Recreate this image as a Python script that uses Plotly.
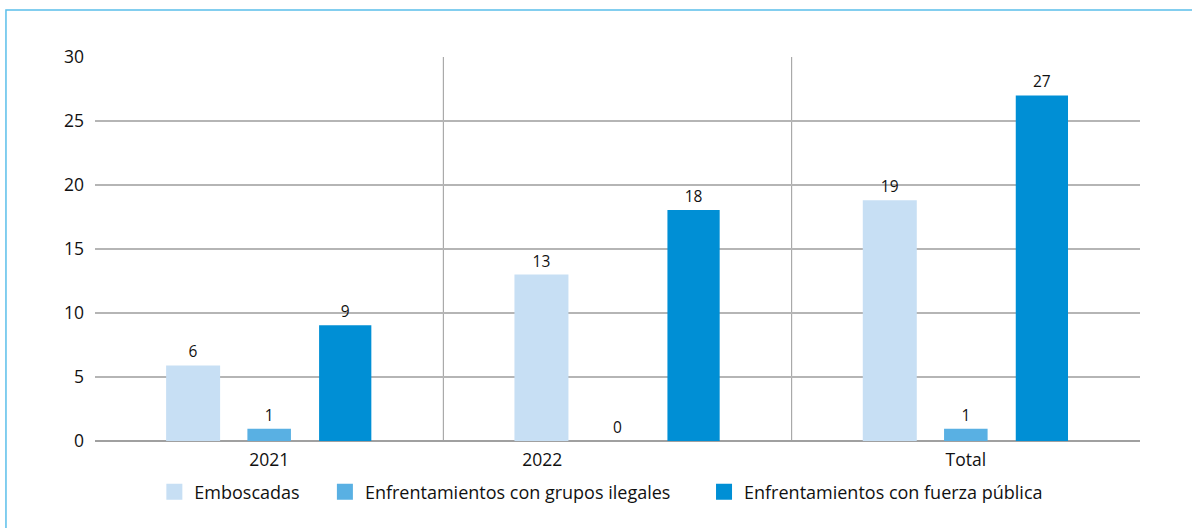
import plotly.graph_objects as go

categories = ["2021", "2022", "Total"]
series_names = ["Emboscadas", "Enfrentamientos con grupos ilegales", "Enfrentamientos con fuerza pública"]
emboscadas = [5.9, 13.0, 18.8]
grupos_ilegales = [0.95, 0.0, 0.95]
fuerza_publica = [9.05, 18.05, 27.0]
labels_emb = ["6", "13", "19"]
labels_gru = ["1", "0", "1"]
labels_fue = ["9", "18", "27"]
y_ticks = [0, 5, 10, 15, 20, 25, 30]

colors = ["#c7dff4", "#59b0e3", "#008fd5"]
widths = [0.155, 0.125, 0.15]
legend_ids = ["legend", "legend2", "legend3"]
legend_x = [0.0568, 0.2200, 0.5828]
FONT = "Open Sans"

fig = go.Figure()
for name, vals, txt, c, w in zip(series_names,
                                 [emboscadas, grupos_ilegales, fuerza_publica],
                                 [labels_emb, labels_gru, labels_fue], colors, widths):
    fig.add_trace(go.Bar(
        x=categories, y=vals, name=name, text=txt, textposition="outside",
        constraintext="none",
        textfont=dict(family=FONT, size=15.5, color="#111"),
        marker=dict(color=c, line=dict(width=0)), width=w, cliponaxis=False,
        showlegend=False,
    ))
# legend entries with square swatches, one legend per entry
for name, c, lid in zip(series_names, colors, legend_ids):
    fig.add_trace(go.Scatter(x=[None], y=[None], mode="markers", name=name, legend=lid,
                             marker=dict(symbol="square", size=16, color=c)))

# separators between categories
for xb in [0.5, 1.5]:
    fig.add_shape(type="line", xref="x", yref="y", x0=xb, x1=xb, y0=0, y1=30,
                  line=dict(color="#999999", width=1), layer="below")

# outer frame
fig.add_shape(type="rect", xref="paper", yref="paper", x0=-0.0852, x1=1.2, y0=-0.4, y1=1.1224,
              line=dict(color="#5bbfea", width=1.5))

legend_common = dict(orientation="h", xanchor="left", y=-0.133, yanchor="middle",
                     font=dict(family=FONT, size=18, color="#111"), itemclick=False,
                     itemdoubleclick=False, itemwidth=30, bgcolor="rgba(0,0,0,0)")

fig.update_layout(
    width=1192, height=528,
    margin=dict(l=95, r=52, t=57, b=87),
    paper_bgcolor="white", plot_bgcolor="white",
    barmode="group", bargap=0.345, bargroupgap=0,
    font=dict(family=FONT, size=17.5, color="#111"),
    showlegend=True,
    legend=dict(x=legend_x[0], **legend_common),
    legend2=dict(x=legend_x[1], **legend_common),
    legend3=dict(x=legend_x[2], **legend_common),
    xaxis=dict(type="category", showgrid=False, showline=False, ticks="",
               tickmode="array", tickvals=[0, 0.784, 2], ticktext=categories,
               ticklabelstandoff=6,
               tickfont=dict(family=FONT, size=17.5, color="#111"), range=[-0.5, 2.5]),
    yaxis=dict(range=[0, 30], tickvals=y_ticks, showgrid=True, gridcolor="#b5b5b5", gridwidth=1.5,
               zeroline=True, zerolinecolor="#a0a0a0", zerolinewidth=2, showline=False,
               ticks="", ticklabelstandoff=10,
               tickfont=dict(family=FONT, size=17.5, color="#111")),
)

fig.write_html("out.html", config={"displayModeBar": False},
               post_script="document.body.style.margin='0';")
